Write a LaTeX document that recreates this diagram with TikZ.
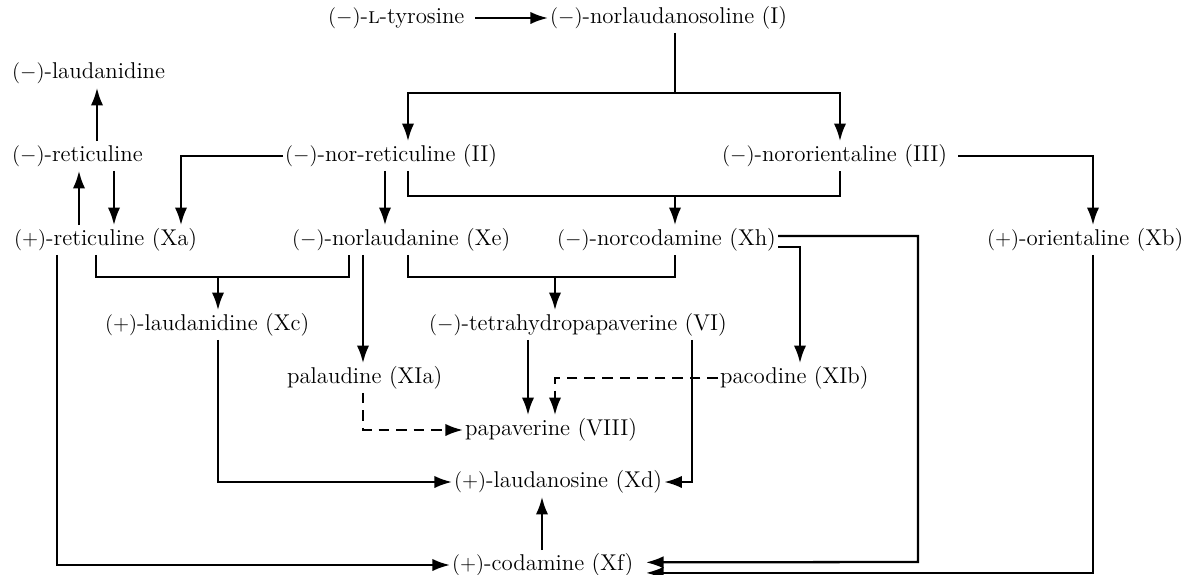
\documentclass[tikz,border=0pt]{standalone}
\usepackage{tikz}
\usetikzlibrary{arrows.meta}

\newcommand{\negrot}{$(-)$}
\newcommand{\posrot}{$(+)$}

\tikzset{
    cpd/.style={anchor=west, inner xsep=1pt, inner ysep=2pt, text height=9.5pt, text depth=3pt,
        font=\fontsize{13}{15}\selectfont},
    arr/.style={-{Latex[length=10pt,width=7pt]}, line width=1.3pt},
    plain/.style={line width=1.3pt},
    dsh/.style={dash pattern=on 6pt off 4pt}
}

\begin{document}
\begin{tikzpicture}[x=0.02cm, y=-0.02cm]
    \useasboundingbox (0,0) rectangle (1184,575);
    % compounds
    \node[cpd] (tyr) at (326,18) {\negrot-\textsc{l}-tyrosine};
    \node[cpd] (I) at (548,18) {\negrot-norlaudanosoline (I)};
    \node[cpd] (lau) at (10,73) {\negrot-laudanidine};
    \node[cpd] (ret) at (10,156) {\negrot-reticuline};
    \node[cpd] (II) at (283,156) {\negrot-nor-reticuline (II)};
    \node[cpd] (III) at (720,156) {\negrot-nororientaline (III)};
    \node[cpd] (Xa) at (12,240) {\posrot-reticuline (Xa)};
    \node[cpd] (Xe) at (290,240) {\negrot-norlaudanine (Xe)};
    \node[cpd] (Xh) at (555,240) {\negrot-norcodamine (Xh)};
    \node[cpd] (Xb) at (985,240) {\posrot-orientaline (Xb)};
    \node[cpd] (Xc) at (103,325) {\posrot-laudanidine (Xc)};
    \node[cpd] (VI) at (427,325) {\negrot-tetrahydropapaverine (VI)};
    \node[cpd] (XIa) at (285,378) {palaudine (XIa)};
    \node[cpd] (XIb) at (718,378) {pacodine (XIb)};
    \node[cpd] (VIII) at (463,430) {papaverine (VIII)};
    \node[cpd] (Xd) at (452,482) {\posrot-laudanosine (Xd)};
    \node[cpd] (Xf) at (450,565) {\posrot-codamine (Xf)};
    % junctions
    \coordinate (jI) at (675,93);
    \coordinate (jII) at (675,196);
    \coordinate (jXa) at (218,277);
    \coordinate (jXe) at (555,277);
    % top part
    \draw[arr, shorten <=5pt] (tyr.east) -- (I.west);
    \draw[plain] (I.south -| jI) -- (jI);
    \draw[arr] (jI) -| (II.north -| 408,0);
    \draw[arr] (jI) -| (III.north -| 840,0);
    \draw[arr] (II.west) -| (Xa.north -| 181,0);
    \draw[arr] (II.south -| 385,0) -- (Xe.north -| 385,0);
    \draw[plain] (II.south -| 408,0) |- (jII) -| (III.south -| 840,0);
    \draw[arr] (jII) -- (Xh.north -| jII);
    \draw[arr, shorten <=5pt] (III.east) -| (Xb.north -| 1093,0);
    % reticulines
    \draw[arr] (Xa.north -| 79,0) -- (ret.south -| 79,0);
    \draw[arr] (ret.south -| 114,0) -- (Xa.north -| 114,0);
    \draw[arr] (ret.north -| 97,0) -- (lau.south -| 97,0);
    \draw[plain] (Xa.south -| 96,0) |- (jXa) -| (Xe.south -| 349,0);
    \draw[arr] (jXa) -- (Xc.north -| jXa);
    \draw[arr] (Xe.south -| 363,0) -- (XIa.north -| 363,0);
    \draw[plain] (Xe.south -| 408,0) |- (jXe) -| (Xh.south -| 675,0);
    \draw[arr] (jXe) -- (VI.north -| jXe);
    % norcodamine outlets
    \draw[arr, shorten >=6pt] ([yshift=2.3pt]Xh.east) -| (918,562) -- ([yshift=1.5pt]Xf.east);
    \draw[arr] ([yshift=-3.9pt]Xh.east) -| (XIb.north -| 800,0);
    \draw[arr, shorten >=6pt] (Xb.south -| 1093,0) |- ([yshift=-4.5pt]Xf.east);
    % lower part
    \draw[arr] (VI.south -| 528,0) -- (VIII.north -| 528,0);
    \draw[arr] (VI.south -| 692,0) |- (Xd.east);
    \draw[arr, dsh] (XIb.west) -| (VIII.north -| 555,0);
    \draw[arr, dsh] (XIa.south -| 363,0) |- (VIII.west);
    \draw[arr] (Xc.south -| 218,0) |- (Xd.west);
    \draw[arr] (Xf.north -| 542,0) -- (Xd.south -| 542,0);
    \draw[arr] (Xa.south -| 57,0) |- (Xf.west);
\end{tikzpicture}
\end{document}
